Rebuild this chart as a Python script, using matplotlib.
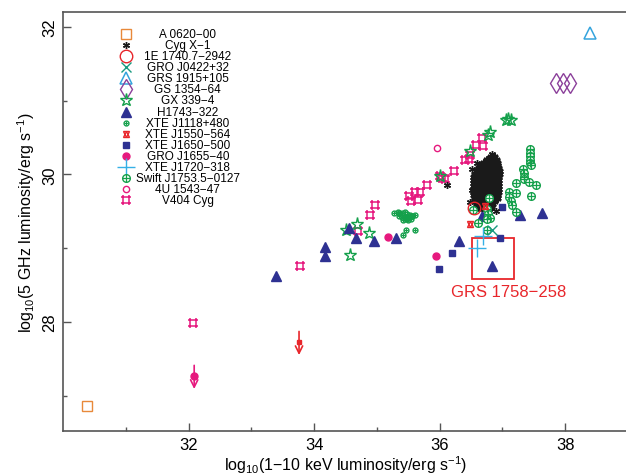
import matplotlib.pyplot as plt
from matplotlib.path import Path
from matplotlib.patches import Rectangle

plt.rcParams['font.family'] = ['Liberation Sans', 'DejaVu Sans']
plt.rcParams['mathtext.fontset'] = 'custom'
plt.rcParams['mathtext.rm'] = 'Liberation Sans'

# ---- data (log10 X-ray luminosity, log10 radio luminosity) ----
a0620_x = [30.39]
a0620_y = [26.86]

cyg_extra_x = [36.59, 36.52, 36.84, 36.12, 36.51, 36.49, 36.90]
cyg_extra_y = [30.16, 30.07, 30.28, 29.86, 29.79, 29.62, 29.50]
# dense Cyg X-1 cloud, row by row (y, x values)
cyg_rows = [
    (30.24, [36.82, 36.87]),
    (30.20, [36.76, 36.81, 36.86, 36.90]),
    (30.16, [36.71, 36.76, 36.81, 36.86, 36.91]),
    (30.12, [36.67, 36.72, 36.77, 36.82, 36.87, 36.92]),
    (30.08, [36.63, 36.68, 36.73, 36.78, 36.83, 36.88, 36.93]),
    (30.04, [36.60, 36.65, 36.70, 36.75, 36.80, 36.85, 36.90, 36.94]),
    (30.00, [36.57, 36.62, 36.67, 36.72, 36.77, 36.82, 36.87, 36.94]),
    (29.96, [36.55, 36.60, 36.65, 36.70, 36.75, 36.80, 36.85, 36.93]),
    (29.92, [36.55, 36.60, 36.65, 36.70, 36.75, 36.80, 36.85, 36.93]),
    (29.88, [36.55, 36.60, 36.65, 36.70, 36.75, 36.80, 36.85, 36.93]),
    (29.84, [36.55, 36.60, 36.65, 36.70, 36.75, 36.80, 36.85, 36.93]),
    (29.80, [36.55, 36.60, 36.65, 36.70, 36.75, 36.80, 36.85, 36.93]),
    (29.76, [36.55, 36.60, 36.65, 36.70, 36.75, 36.80, 36.85, 36.93]),
    (29.72, [36.55, 36.60, 36.65, 36.70, 36.75, 36.80, 36.85, 36.92]),
    (29.68, [36.56, 36.61, 36.66, 36.71, 36.76, 36.81, 36.86, 36.91]),
    (29.64, [36.57, 36.62, 36.67, 36.72, 36.77, 36.82, 36.87]),
    (29.60, [36.59, 36.64, 36.69, 36.74, 36.79, 36.84]),
    (29.56, [36.62, 36.67, 36.72, 36.77, 36.82]),
]

e1740_x = [36.55]
e1740_y = [29.55]

j0422_x = [36.84]
j0422_y = [29.24]

grs1915_x = [38.40]
grs1915_y = [31.91]

gs1354_x = [37.85, 37.97, 38.08]
gs1354_y = [31.24, 31.24, 31.24]

gx339_x = [34.51, 34.68, 34.88, 34.57, 36.00, 36.48, 36.77, 36.80, 37.06, 37.09, 37.13]
gx339_y = [29.25, 29.32, 29.20, 28.90, 29.98, 30.32, 30.53, 30.57, 30.73, 30.75, 30.74]

h1743_x = [33.40, 34.18, 34.18, 34.56, 34.66, 34.96, 35.30, 36.31, 36.67, 36.84, 37.28, 37.63]
h1743_y = [28.62, 29.01, 28.89, 29.27, 29.13, 29.09, 29.13, 29.10, 29.44, 28.76, 29.45, 29.48]

j1118_x = [35.28, 35.33, 35.36, 35.40, 35.44, 35.48, 35.52, 35.56, 35.60, 35.36, 35.40,
           35.44, 35.48, 35.52, 35.56, 35.42, 35.46, 35.50, 35.54, 35.46, 35.61, 35.42]
j1118_y = [29.48, 29.49, 29.47, 29.47, 29.49, 29.46, 29.45, 29.44, 29.45, 29.43, 29.42,
           29.42, 29.41, 29.42, 29.43, 29.38, 29.39, 29.38, 29.40, 29.25, 29.25, 29.18]

j1550_x = [36.48, 36.73]
j1550_y = [29.33, 29.57]
j1550_lim_x = [33.76]
j1550_lim_y = [27.72]

j1650_x = [35.99, 36.19, 36.96, 36.99]
j1650_y = [28.71, 28.93, 29.13, 29.56]

j1655_x = [35.18, 35.94]
j1655_y = [29.15, 28.89]
j1655_lim_x = [32.09]
j1655_lim_y = [27.26]

j1720_x = [36.59, 36.69]
j1720_y = [29.00, 29.17]

swift_x = [37.44, 37.44, 37.44, 37.44, 37.44, 37.45, 37.33, 37.34, 37.34, 37.34,
           37.43, 37.54, 37.21, 37.45, 37.10, 37.10, 37.13, 37.15, 37.21, 37.21,
           36.79, 36.75, 36.77, 36.80, 36.75, 36.61, 36.75, 36.53]
swift_y = [30.34, 30.29, 30.25, 30.20, 30.16, 30.12, 30.07, 30.02, 29.97, 29.93,
           29.90, 29.86, 29.88, 29.71, 29.76, 29.69, 29.64, 29.58, 29.49, 29.75,
           29.68, 29.53, 29.46, 29.41, 29.40, 29.34, 29.25, 29.51]

u1543_x = [35.96]
u1543_y = [30.36]

v404_x = [32.07, 33.78, 34.70, 34.89, 34.97, 35.51, 35.55, 35.61, 35.66, 35.69, 35.80,
          36.01, 36.03, 36.08, 36.23, 36.40, 36.46, 36.48, 36.58, 36.68, 36.69]
v404_y = [27.99, 28.76, 29.23, 29.45, 29.59, 29.70, 29.64, 29.76, 29.65, 29.76, 29.86,
          29.98, 29.95, 29.93, 30.05, 30.20, 30.21, 30.26, 30.40, 30.49, 30.38]

grs1758_box = [36.52, 37.18, 28.58, 29.13]  # x0, x1, y0, y1

cyg_x = [x for y, xs in cyg_rows for x in xs]
cyg_y = [y for y, xs in cyg_rows for x in xs]

# ---- colours ----
orange = '#e8893a'
red = '#e8262b'
teal = '#1a9a80'
blue = '#35a4dd'
purple = '#8b3f9a'
green = '#14a04b'
navy = '#2e3192'
pink = '#e6197e'
cyan = '#35b0e6'

# square with overhanging corners, like the V404 Cyg symbol
e = 1.32
v404_marker = Path(
    [(-e, -1), (e, -1), (-e, 1), (e, 1), (-1, -e), (-1, e), (1, -e), (1, e)],
    [Path.MOVETO, Path.LINETO] * 4)

fig = plt.figure(figsize=(6.26, 4.77), dpi=100)
ax = fig.add_axes([0.1006, 0.0943, 0.9026, 0.8784])


def draw(ax, x, y, kind, **kw):
    if kind == 'a0620':
        ax.plot(x, y, 's', ms=7, mfc='none', mec=orange, mew=1.0, ls='none', **kw)
    elif kind == 'cyg':
        ax.plot(x, y, marker=(6, 2, 0), ms=5, color='#1a1a1a', mew=1.0, ls='none', **kw)
    elif kind == 'cygblob':
        ax.plot(x, y, marker=(6, 2, 0), ms=6, color='#1a1a1a', mew=1.6, ls='none', **kw)
        ax.plot(x, y, 'o', ms=4, color='#1a1a1a', ls='none', **kw)
    elif kind == 'e1740':
        ax.plot(x, y, 'o', ms=9, mfc='none', mec=red, mew=1.0, ls='none', **kw)
    elif kind == 'j0422':
        ax.plot(x, y, 'x', ms=7, color=teal, mew=1.0, ls='none', **kw)
    elif kind == 'grs1915':
        ax.plot(x, y, '^', ms=8, mfc='none', mec=blue, mew=1.1, ls='none', **kw)
    elif kind == 'gs1354':
        ax.plot(x, y, 'd', ms=10, mfc='none', mec=purple, mew=1.0, ls='none', **kw)
    elif kind == 'gx339':
        ax.plot(x, y, '*', ms=9.5, mfc='none', mec=green, mew=1.0, ls='none', **kw)
    elif kind == 'h1743':
        ax.plot(x, y, '^', ms=7, color=navy, mec=navy, ls='none', **kw)
    elif kind == 'j1118':
        ax.plot(x, y, 'o', ms=3.5, mfc='none', mec=green, mew=1.0, ls='none', **kw)
        ax.plot(x, y, '+', ms=3.5, color=green, mew=0.8, ls='none', **kw)
    elif kind == 'j1550':
        ax.plot(x, y, '^', ms=4.5, mfc='none', mec=red, mew=1.0, ls='none', **kw)
        ax.plot(x, y, 'v', ms=4.5, mfc='none', mec=red, mew=1.0, ls='none', **kw)
    elif kind == 'j1650':
        ax.plot(x, y, 's', ms=4.5, color=navy, ls='none', **kw)
    elif kind == 'j1655':
        ax.plot(x, y, 'o', ms=5, color=pink, ls='none', **kw)
    elif kind == 'j1720':
        ax.plot(x, y, '+', ms=13, color=cyan, mew=1.0, ls='none', **kw)
    elif kind == 'swift':
        ax.plot(x, y, 'o', ms=5.5, mfc='white', mec=green, mew=1.0, ls='none', **kw)
        ax.plot(x, y, '+', ms=5.5, color=green, mew=0.9, ls='none', **kw)
    elif kind == 'u1543':
        ax.plot(x, y, 'o', ms=4.5, mfc='none', mec=pink, mew=1.0, ls='none', **kw)
    elif kind == 'v404':
        ax.plot(x, y, marker=v404_marker, ms=6.5, color=pink, mew=1.1, ls='none', **kw)


# ---- data points ----
draw(ax, a0620_x, a0620_y, 'a0620')
draw(ax, grs1915_x, grs1915_y, 'grs1915')
draw(ax, gs1354_x, gs1354_y, 'gs1354')
draw(ax, v404_x, v404_y, 'v404')
draw(ax, gx339_x, gx339_y, 'gx339')
draw(ax, h1743_x, h1743_y, 'h1743')
draw(ax, j1118_x, j1118_y, 'j1118')
draw(ax, j1650_x, j1650_y, 'j1650')
draw(ax, j1655_x, j1655_y, 'j1655')
draw(ax, u1543_x, u1543_y, 'u1543')
draw(ax, cyg_x, cyg_y, 'cygblob')
draw(ax, cyg_extra_x, cyg_extra_y, 'cyg')
draw(ax, swift_x, swift_y, 'swift')
draw(ax, e1740_x, e1740_y, 'e1740')
draw(ax, j1550_x, j1550_y, 'j1550')
draw(ax, j0422_x, j0422_y, 'j0422')
draw(ax, j1720_x, j1720_y, 'j1720')

# upper limits
for xs, ys, kind, col in [(j1550_lim_x, j1550_lim_y, 'j1550', red),
                          (j1655_lim_x, j1655_lim_y, 'j1655', pink)]:
    for x, y in zip(xs, ys):
        ax.annotate('', xy=(x, y - 0.17), xytext=(x, y + 0.15),
                    arrowprops=dict(arrowstyle='->', color=col, lw=1.2,
                                    mutation_scale=13, shrinkA=0, shrinkB=0))
    if kind == 'j1550':
        ax.plot(xs, ys, 's', ms=3.5, color=red, ls='none')
    else:
        draw(ax, xs, ys, kind)

# GRS 1758-258 box
bx0, bx1, by0, by1 = grs1758_box
ax.add_patch(Rectangle((bx0, by0), bx1 - bx0, by1 - by0, fill=False,
                       edgecolor=red, lw=1.3))
ax.text((bx0 + bx1) / 2 + 0.25, by0 - 0.07, 'GRS 1758\u2212258', color=red,
        fontsize=12, ha='center', va='top')

# ---- hand-made legend ----
legend_items = [
    ('a0620', 'A 0620\u221200'),
    ('cyg', 'Cyg X\u22121'),
    ('e1740', '1E 1740.7\u22122942'),
    ('j0422', 'GRO J0422+32'),
    ('grs1915', 'GRS 1915+105'),
    ('gs1354', 'GS 1354\u221264'),
    ('gx339', 'GX 339\u22124'),
    ('h1743', 'H1743\u2212322'),
    ('j1118', 'XTE J1118+480'),
    ('j1550', 'XTE J1550\u2212564'),
    ('j1650', 'XTE J1650\u2212500'),
    ('j1655', 'GRO J1655\u221240'),
    ('j1720', 'XTE J1720\u2212318'),
    ('swift', 'Swift J1753.5\u22120127'),
    ('u1543', '4U 1543\u221247'),
    ('v404', 'V404 Cyg'),
]
y_top = (432 - 35) / 419
dy = 11.07 / 419
for i, (kind, label) in enumerate(legend_items):
    yy = y_top - i * dy
    draw(ax, [0.1115], [yy], kind, transform=ax.transAxes, clip_on=False)
    ax.text(0.221, yy, label, transform=ax.transAxes, fontsize=8.5,
            ha='center', va='center')

# ---- axes styling ----
ax.set_xlim(30, 39)
ax.set_ylim(26.52, 32.2)
ax.set_xticks([32, 34, 36, 38])
ax.set_xticks([31, 33, 35, 37], minor=True)
ax.set_yticks([28, 30, 32])
ax.set_yticks([27, 29, 31], minor=True)
ax.tick_params(which='both', direction='in', color='#555555', width=1.0,
               labelsize=12, pad=4)
ax.tick_params(which='major', length=5.5)
ax.tick_params(which='minor', length=3)
ax.tick_params(axis='y', labelrotation=90)
for lab in ax.get_yticklabels():
    lab.set_va('center')
for sp in ax.spines.values():
    sp.set_color('#555555')
    sp.set_linewidth(1.2)

ax.set_xlabel('log$_{10}$(1\u221210 keV luminosity/erg s$^{-1}$)', fontsize=11.5, labelpad=1)
ax.set_ylabel('log$_{10}$(5 GHz luminosity/erg s$^{-1}$)', fontsize=11.5, labelpad=4)

fig.savefig('out.png', dpi=100)
